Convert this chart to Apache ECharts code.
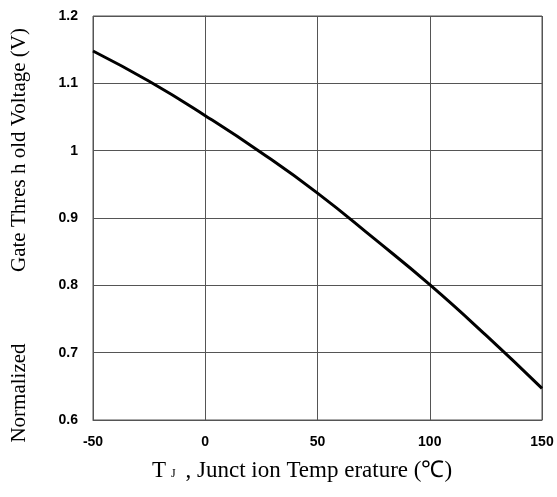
<!DOCTYPE html>
<html>
<head>
<meta charset="utf-8">
<script src="https://cdn.jsdelivr.net/npm/echarts@6/dist/echarts.min.js"></script>
<style>
    html, body { margin: 0; padding: 0; background: #fff; }
    #vthChart { width: 557px; height: 497px; }
</style>
</head>
<body>
<div id="vthChart"></div>
<script>
    // data
    var tempJ = [-50, -25, 0, 25, 50, 75, 100, 125, 150];
    var vthNorm = [1.148, 1.103, 1.052, 0.997, 0.937, 0.870, 0.801, 0.726, 0.647];
    var xTicks = [-50, 0, 50, 100, 150];
    var yTicks = [0.6, 0.7, 0.8, 0.9, 1, 1.1, 1.2];

    var myChart = echarts.init(document.getElementById('vthChart'));
    var tickFont = {color: '#000', fontFamily: 'Liberation Sans', fontWeight: 'bold', fontSize: 14};
    var gridLine = {show: true, lineStyle: {color: '#555', width: 1}};
    var serif = '"Liberation Serif"';

    myChart.setOption({
        animation: false,
        grid: {left: 93, right: 15, top: 16, bottom: 77, show: true, borderColor: '#555', borderWidth: 1},
        xAxis: {
            type: 'value',
            min: xTicks[0],
            max: xTicks[xTicks.length - 1],
            interval: 50,
            axisLine: {show: true, lineStyle: {color: '#555'}},
            axisTick: {show: false},
            splitLine: gridLine,
            axisLabel: Object.assign({margin: 15}, tickFont)
        },
        yAxis: {
            type: 'value',
            min: yTicks[0],
            max: yTicks[yTicks.length - 1],
            interval: 0.1,
            axisLine: {show: true, lineStyle: {color: '#555'}},
            axisTick: {show: false},
            splitLine: gridLine,
            axisLabel: Object.assign({margin: 15, formatter: function (v) { return +v.toFixed(1) + ''; }}, tickFont)
        },
        graphic: [
            {//x axis title
                type: 'text', x: 152, y: 459,
                style: {
                    text: 'T{s|J} , Junct ion Temp erature (℃)',
                    font: '23px ' + serif,
                    fill: '#000',
                    rich: {s: {fontSize: 12, fontFamily: 'Liberation Serif', padding: [7, 4, 0, 5]}}
                }
            },
            {//y axis title, lower part
                type: 'text', x: 19, y: 393, rotation: Math.PI / 2,
                style: {text: 'Normalized', font: '21px ' + serif, fill: '#000', align: 'center', verticalAlign: 'middle'}
            },
            {//y axis title, upper part
                type: 'text', x: 19, y: 150, rotation: Math.PI / 2,
                style: {text: 'Gate Thres h old Voltage (V)', font: '21px ' + serif, fill: '#000', align: 'center', verticalAlign: 'middle'}
            }
        ],
        series: [
            {
                type: 'line',
                data: tempJ.map(function (t, i) { return [t, vthNorm[i]]; }),
                smooth: true,
                showSymbol: false,
                lineStyle: {color: '#000', width: 3}
            }
        ]
    });
</script>
</body>
</html>
